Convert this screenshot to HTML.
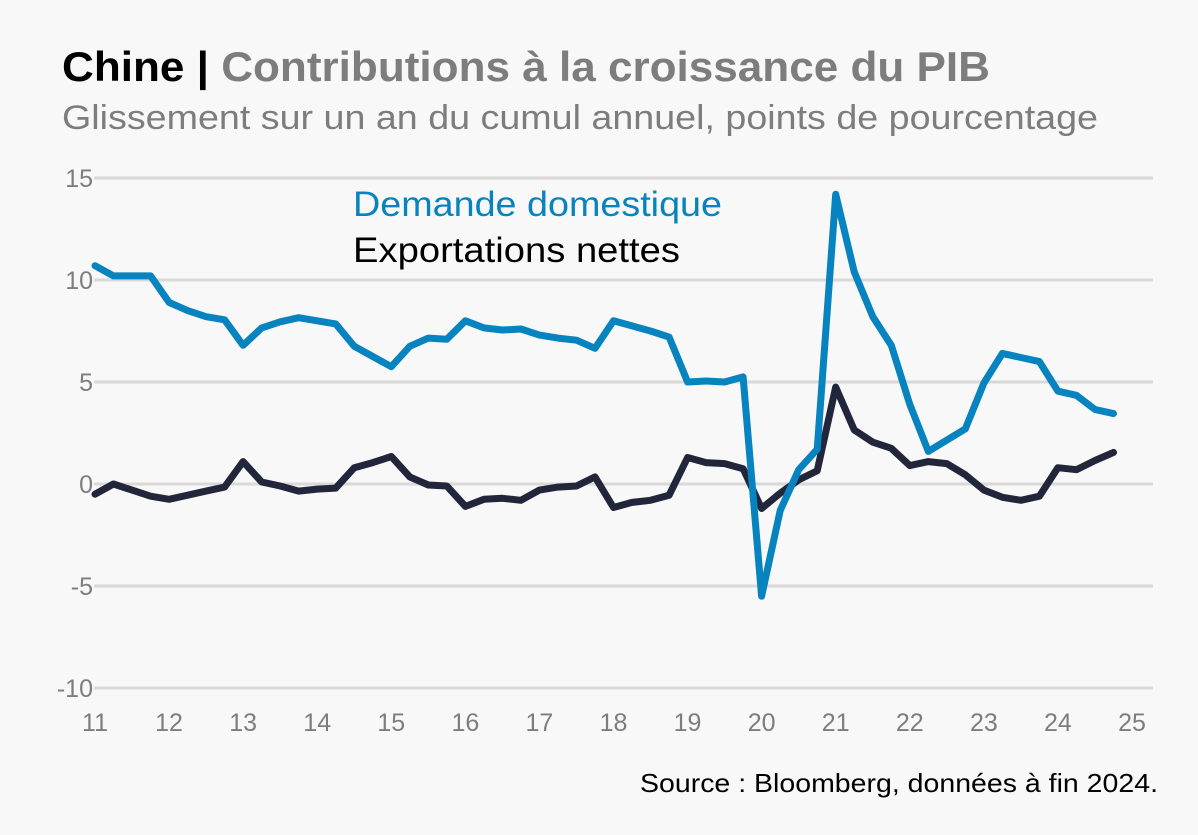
<!DOCTYPE html>
<html><head><meta charset="utf-8">
<style>
body{margin:0;background:#f8f8f8;}
svg{display:block;font-family:"Liberation Sans",sans-serif;}
</style></head>
<body>
<svg id="chart" width="1198" height="835" viewBox="0 0 1198 835" xmlns="http://www.w3.org/2000/svg">
<rect width="1198" height="835" fill="#f8f8f8"/>
<text x="62" y="81" font-size="42" font-weight="bold" textLength="928" lengthAdjust="spacingAndGlyphs"><tspan fill="#000">Chine | </tspan><tspan fill="#7d7d7d">Contributions à la croissance du PIB</tspan></text>
<text x="62" y="129" font-size="34" fill="#7d7d7d" textLength="1036" lengthAdjust="spacingAndGlyphs">Glissement sur un an du cumul annuel, points de pourcentage</text>
<g id="grid"></g>
<g id="yticks"></g>
<g id="xticks"></g>
<g id="series"></g>
<text x="353" y="216" font-size="35" fill="#0783c0" textLength="369" lengthAdjust="spacingAndGlyphs">Demande domestique</text>
<text x="353" y="262" font-size="35" fill="#000" textLength="327" lengthAdjust="spacingAndGlyphs">Exportations nettes</text>
<text x="640" y="792" font-size="26" fill="#000" textLength="518" lengthAdjust="spacingAndGlyphs">Source : Bloomberg, données à fin 2024.</text>
</svg>
<script>
const yTicks=[15,10,5,0,-5,-10];
const yTickLabels=["15","10","5","0","-5","-10"];
const xTicks=[11,12,13,14,15,16,17,18,19,20,21,22,23,24,25];
const xTickLabels=["11","12","13","14","15","16","17","18","19","20","21","22","23","24","25"];
const startYear=11;
const demande=[10.7,10.2,10.2,10.2,8.9,8.5,8.2,8.05,6.8,7.65,7.95,8.15,8.0,7.85,6.75,6.25,5.75,6.75,7.15,7.1,8.0,7.65,7.55,7.6,7.3,7.15,7.05,6.65,8.0,7.75,7.5,7.2,5.0,5.05,5.0,5.25,-5.5,-1.3,0.7,1.7,14.2,10.4,8.2,6.8,3.9,1.6,2.15,2.7,4.95,6.4,6.2,6.0,4.55,4.35,3.65,3.45];
const exportations=[-0.5,0.0,-0.3,-0.6,-0.75,-0.55,-0.35,-0.15,1.1,0.1,-0.1,-0.35,-0.25,-0.2,0.8,1.05,1.35,0.35,-0.05,-0.1,-1.1,-0.75,-0.7,-0.8,-0.3,-0.15,-0.1,0.35,-1.15,-0.9,-0.8,-0.55,1.3,1.05,1.0,0.75,-1.2,-0.45,0.2,0.65,4.75,2.65,2.05,1.75,0.9,1.1,1.0,0.45,-0.3,-0.65,-0.8,-0.6,0.8,0.7,1.15,1.55];

const NS="http://www.w3.org/2000/svg";
const x=v=>95+(v-11)*(1132-95)/14;
const y=v=>484-v*20.4;
function mk(tag,attrs,parent){const e=document.createElementNS(NS,tag);for(const k in attrs)e.setAttribute(k,attrs[k]);parent.appendChild(e);return e;}
const grid=document.getElementById('grid'),yt=document.getElementById('yticks'),xt=document.getElementById('xticks'),ser=document.getElementById('series');
yTicks.forEach((v,i)=>{
  const l=mk('line',{x1:94,x2:1153,y1:y(v),y2:y(v),stroke:'#d9d9d9','stroke-width':3},grid);
  
  
  const t=mk('text',{x:93,y:y(v)+9,'font-size':25,fill:'#7d7d7d','text-anchor':'end'},yt);
  t.textContent=yTickLabels[i];
  
  
});
xTicks.forEach((v,i)=>{
  const t=mk('text',{x:x(v),y:731,'font-size':25,fill:'#7d7d7d','text-anchor':'middle'},xt);
  t.textContent=xTickLabels[i];
  
  
});
function line(data,color,name){
  const pts=data.map((v,i)=>x(startYear+i/4).toFixed(1)+','+y(v).toFixed(1)).join(' ');
  const p=mk('polyline',{points:pts,fill:'none',stroke:color,'stroke-width':7,'stroke-linejoin':'round','stroke-linecap':'round'},ser);
  
  
}
line(exportations,'#21263a','line-exportations-nettes');
line(demande,'#0783c0','line-demande-domestique');
</script>
</body></html>
